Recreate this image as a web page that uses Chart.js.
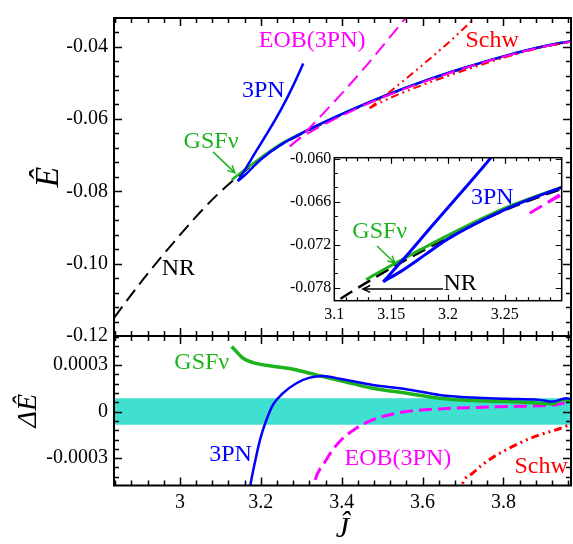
<!DOCTYPE html>
<html lang="en">
<head>
<meta charset="UTF-8">
<title>Binding energy vs angular momentum</title>
<script src="https://cdn.jsdelivr.net/npm/chart.js"></script>
<style>
  body { margin: 0; background: white; }
  #wrap { position: relative; width: 573px; height: 544px; }
  canvas { position: absolute; left: 0; top: 0; }
</style>
</head>
<body>
<div id="wrap">
  <canvas id="topChart" width="573" height="544"></canvas>
  <canvas id="bottomChart" width="573" height="544"></canvas>
  <canvas id="insetChart" width="573" height="544"></canvas>
</div>
<script>
// ---- top panel: E(J) ----
const nrJ = [2.837, 2.87, 2.91, 2.95, 2.99, 3.04, 3.09, 3.14, 3.2, 3.25, 3.3, 3.35, 3.4, 3.45, 3.5, 3.55, 3.6, 3.65, 3.7, 3.75, 3.8, 3.85, 3.9, 3.967];
const nrE = [-0.1150, -0.1100, -0.1042, -0.0987, -0.0934, -0.0870, -0.0812, -0.0762, -0.0710, -0.0672, -0.0642, -0.0615, -0.0589, -0.0564, -0.0541, -0.0519, -0.0498, -0.0479, -0.0461, -0.0444, -0.0428, -0.0413, -0.0400, -0.0386];

const gsfJ = [3.128, 3.14, 3.17, 3.2, 3.25, 3.3, 3.4, 3.5, 3.6, 3.7, 3.8, 3.9, 3.967];
const gsfE = [-0.0769, -0.0758, -0.0732, -0.0707, -0.0669, -0.0640, -0.0587, -0.0539, -0.0497, -0.0460, -0.0427, -0.0399, -0.0385];

const pn3UpJ = [3.143, 3.16, 3.187, 3.21, 3.238, 3.26, 3.28, 3.305];
const pn3UpE = [-0.0772, -0.0742, -0.0692, -0.0650, -0.0598, -0.0553, -0.0508, -0.0447];
const pn3LoJ = [3.143, 3.16, 3.18, 3.2, 3.25, 3.3, 3.4, 3.5, 3.6, 3.7, 3.8, 3.9, 3.967];
const pn3LoE = [-0.0772, -0.0756, -0.0734, -0.0712, -0.0671, -0.0640, -0.0587, -0.0539, -0.0497, -0.0460, -0.0427, -0.0399, -0.0385];

const eobUpJ = [3.272, 3.30, 3.35, 3.40, 3.45, 3.50, 3.556, 3.566];
const eobUpE = [-0.0676, -0.0648, -0.0590, -0.0530, -0.0467, -0.0400, -0.0324, -0.0310];
const eobLoJ = [3.272, 3.30, 3.331, 3.362, 3.395, 3.45, 3.56, 3.7, 3.8, 3.9, 3.967];
const eobLoE = [-0.0676, -0.0651, -0.0631, -0.0612, -0.0594, -0.0565, -0.0515, -0.0461, -0.0428, -0.0400, -0.0386];

const schwUpJ = [3.469, 3.53, 3.59, 3.65, 3.70, 3.735];
const schwUpE = [-0.0570, -0.0515, -0.0460, -0.0403, -0.0352, -0.0314];
const schwLoJ = [3.469, 3.52, 3.6, 3.7, 3.8, 3.9, 3.967];
const schwLoE = [-0.0570, -0.0542, -0.0506, -0.0467, -0.0431, -0.0401, -0.0387];

// ---- bottom panel: delta E(J) relative to NR ----
const gsfDJ = [3.128, 3.140, 3.156, 3.181, 3.222, 3.280, 3.337, 3.395, 3.477, 3.560, 3.642, 3.724, 3.807, 3.889, 3.922, 3.945, 3.969];
const gsfDE = [0.000418, 0.000385, 0.000343, 0.000315, 0.000294, 0.000272, 0.000236, 0.000199, 0.000150, 0.000118, 0.000086, 0.000071, 0.000064, 0.000054, 0.000050, 0.000075, 0.000070];

const pn3DJ = [3.170, 3.1745, 3.185, 3.198, 3.214, 3.230, 3.255, 3.288, 3.321, 3.354, 3.395, 3.477, 3.560, 3.642, 3.724, 3.807, 3.889, 3.922, 3.955, 3.969];
const pn3DE = [-0.00055, -0.00047, -0.000332, -0.000182, -0.000053, 0.000043, 0.000118, 0.000182, 0.000218, 0.000229, 0.000211, 0.000171, 0.000144, 0.000107, 0.000090, 0.000082, 0.000075, 0.000064, 0.000086, 0.000080];

const eobDJ = [3.325, 3.331, 3.362, 3.395, 3.436, 3.477, 3.519, 3.560, 3.642, 3.724, 3.807, 3.889, 3.930, 3.963];
const eobDE = [-0.00056, -0.00047, -0.00031, -0.000193, -0.000107, -0.000053, -0.000021, 0.0, 0.000017, 0.000026, 0.000032, 0.000037, 0.000043, 0.000064];

const schwDJ = [3.692, 3.698, 3.724, 3.765, 3.807, 3.848, 3.889, 3.930, 3.967];
const schwDE = [-0.00054, -0.00047, -0.000396, -0.00031, -0.000246, -0.000193, -0.00015, -0.000118, -0.000082];

// NR error band
const bandJ = [2.837, 3.967];
const bandHi = [0.000085, 0.000085];
const bandLo = [-0.000085, -0.000085];

// ---- ticks ----
const jTicks = [3, 3.2, 3.4, 3.6, 3.8];
const jLabels = ['3', '3.2', '3.4', '3.6', '3.8'];
const eTicks = [-0.12, -0.10, -0.08, -0.06, -0.04];
const eLabels = ['-0.12', '-0.10', '-0.08', '-0.06', '-0.04'];
const dTicks = [-0.0003, 0, 0.0003];
const dLabels = ['-0.0003', '0', '0.0003'];
const inJTicks = [3.1, 3.15, 3.2, 3.25];
const inJLabels = ['3.1', '3.15', '3.2', '3.25'];
const inETicks = [-0.078, -0.072, -0.066, -0.060];
const inELabels = ['-0.078', '-0.072', '-0.066', '-0.060'];

const SERIF = '"Liberation Serif", "Times New Roman", serif';
const BLUE = '#0000ff', GREEN = '#1db31d', MAGENTA = '#ff00ff', RED = '#ff0000', TEAL = '#40e0d0';

function steps(from, to, step) {
  const out = [];
  for (let k = 0; from + k * step <= to + step * 1e-6; k++) out.push(+(from + k * step).toFixed(8));
  return out;
}

function line(xs, ys, color, width, dash) {
  return {
    data: xs.map((x, i) => ({ x: x, y: ys[i] })),
    borderColor: color, borderWidth: width, borderDash: dash || [],
    pointRadius: 0, fill: false, cubicInterpolationMode: 'monotone'
  };
}

function axis(pos, min, max, ticks, labels, size, fontSize, pad) {
  const vert = pos === 'left';
  return {
    type: 'linear', position: pos, min: min, max: max,
    grid: { display: false, drawTicks: false },
    border: { display: false },
    afterFit: s => { if (vert) s.width = size; else s.height = size; },
    afterBuildTicks: s => { s.ticks = ticks.map(v => ({ value: v })); },
    ticks: {
      autoSkip: false, maxRotation: 0, color: '#000', padding: pad,
      font: { family: SERIF, size: fontSize },
      callback: (v, i) => labels[i]
    }
  };
}

// inward ticks on all four sides plus the frame
const frameTicks = {
  id: 'frameTicks',
  afterDatasetsDraw(chart, args, o) {
    const { ctx, chartArea: a, scales: { x, y } } = chart;
    ctx.save();
    ctx.strokeStyle = '#000';
    ctx.lineWidth = o.tickWidth;
    ctx.beginPath();
    const doX = (vals, len) => vals.forEach(v => {
      const p = Math.round(x.getPixelForValue(v)) + 0.5;
      if (p < a.left + 1 || p > a.right - 1) return;
      ctx.moveTo(p, a.bottom); ctx.lineTo(p, a.bottom - len);
      ctx.moveTo(p, a.top); ctx.lineTo(p, a.top + len);
    });
    const doY = (vals, len) => vals.forEach(v => {
      const p = Math.round(y.getPixelForValue(v)) + 0.5;
      if (p < a.top + 1 || p > a.bottom - 1) return;
      ctx.moveTo(a.left, p); ctx.lineTo(a.left + len, p);
      ctx.moveTo(a.right, p); ctx.lineTo(a.right - len, p);
    });
    doX(o.xMinor, o.minor); doX(o.xMajor, o.major);
    doY(o.yMinor, o.minor); doY(o.yMajor, o.major);
    ctx.stroke();
    ctx.lineWidth = o.frameWidth;
    ctx.strokeRect(a.left, a.top, a.right - a.left, a.bottom - a.top);
    ctx.restore();
  }
};

// text labels and arrows, placed in data coordinates
const notes = {
  id: 'notes',
  afterDraw(chart, args, o) {
    const { ctx, scales: { x, y } } = chart;
    ctx.save();
    ctx.textAlign = 'center';
    ctx.textBaseline = 'middle';
    (o.items || []).forEach(n => {
      ctx.font = (n.size || 24) + 'px ' + SERIF;
      ctx.fillStyle = n.color;
      ctx.fillText(n.text, x.getPixelForValue(n.x), y.getPixelForValue(n.y));
    });
    (o.arrows || []).forEach(r => {
      const x0 = x.getPixelForValue(r.x0), y0 = y.getPixelForValue(r.y0);
      const x1 = x.getPixelForValue(r.x1), y1 = y.getPixelForValue(r.y1);
      const ang = Math.atan2(y1 - y0, x1 - x0), h = 8;
      ctx.strokeStyle = r.color;
      ctx.lineWidth = 1.5;
      ctx.beginPath();
      ctx.moveTo(x0, y0); ctx.lineTo(x1, y1);
      ctx.moveTo(x1 - h * Math.cos(ang - 0.45), y1 - h * Math.sin(ang - 0.45));
      ctx.lineTo(x1, y1);
      ctx.lineTo(x1 - h * Math.cos(ang + 0.45), y1 - h * Math.sin(ang + 0.45));
      ctx.stroke();
    });
    ctx.restore();
  }
};

const whiteArea = {
  id: 'whiteArea',
  beforeDraw(chart) {
    const { ctx, chartArea: a } = chart;
    ctx.save();
    ctx.fillStyle = '#fff';
    ctx.fillRect(a.left, a.top, a.right - a.left, a.bottom - a.top);
    ctx.restore();
  }
};

const J_MIN = 2.837, J_MAX = 3.967;
const DASH = [14, 7], DASHDOT = [8, 4, 2, 4, 2, 4];

function energyDatasets(w) {
  return [
    line(eobUpJ, eobUpE, MAGENTA, w, DASH),
    line(eobLoJ, eobLoE, MAGENTA, w, DASH),
    line(schwUpJ, schwUpE, RED, w, DASHDOT),
    line(schwLoJ, schwLoE, RED, w, DASHDOT),
    line(pn3UpJ, pn3UpE, BLUE, w + 0.5),
    line(pn3LoJ, pn3LoE, BLUE, w + 0.5),
    line(gsfJ, gsfE, GREEN, w + 0.5),
    line(nrJ, nrE, '#000', w, DASH)
  ];
}

const common = {
  responsive: false, animation: false, devicePixelRatio: 1,
  events: []
};

// top panel
new Chart(document.getElementById('topChart'), {
  type: 'line',
  data: { datasets: energyDatasets(2) },
  options: Object.assign({}, common, {
    layout: { autoPadding: false, padding: { left: 0, right: 2, top: 9, bottom: 208 } },
    scales: {
      x: { type: 'linear', min: J_MIN, max: J_MAX, display: false },
      y: Object.assign(axis('left', -0.12, -0.0321, eTicks, eLabels, 114, 20, 6), {
        title: { display: true, text: 'Ê', color: '#000', padding: { top: 32, bottom: 0 },
                 font: { family: SERIF, size: 34, style: 'italic', lineHeight: 1 } }
      })
    },
    plugins: {
      legend: { display: false }, tooltip: { enabled: false },
      frameTicks: { xMajor: jTicks, xMinor: steps(2.84, 3.96, 0.04), yMajor: eTicks,
                    yMinor: steps(-0.12, -0.032, 0.004), major: 8, minor: 5, tickWidth: 1.5, frameWidth: 2 },
      notes: {
        items: [
          { text: 'EOB(3PN)', x: 3.327, y: -0.0383, color: MAGENTA },
          { text: 'Schw', x: 3.772, y: -0.0384, color: RED },
          { text: '3PN', x: 3.206, y: -0.0521, color: BLUE },
          { text: 'GSF\u03bd', x: 3.077, y: -0.0662, color: GREEN },
          { text: 'NR', x: 2.996, y: -0.1014, color: '#000' }
        ],
        arrows: [{ x0: 3.082, y0: -0.0691, x1: 3.136, y1: -0.0749, color: GREEN }]
      }
    }
  }),
  plugins: [frameTicks, notes]
});

// bottom panel
new Chart(document.getElementById('bottomChart'), {
  type: 'line',
  data: {
    datasets: [
      line(pn3DJ, pn3DE, BLUE, 2.5),
      line(gsfDJ, gsfDE, GREEN, 3.5),
      line(eobDJ, eobDE, MAGENTA, 3, [13, 6]),
      line(schwDJ, schwDE, RED, 3, DASHDOT),
      Object.assign(line(bandJ, bandHi, TEAL, 0), { fill: '+1', backgroundColor: TEAL, cubicInterpolationMode: 'default' }),
      Object.assign(line(bandJ, bandLo, TEAL, 0), { cubicInterpolationMode: 'default' })
    ]
  },
  options: Object.assign({}, common, {
    layout: { autoPadding: false, padding: { left: 0, right: 2, top: 336, bottom: 0 } },
    scales: {
      x: Object.assign(axis('bottom', J_MIN, J_MAX, jTicks, jLabels, 58.5, 20, 5), {
        title: { display: true, text: 'Ĵ', color: '#000', padding: { top: 0, bottom: 0 },
                 font: { family: SERIF, size: 30, style: 'italic', lineHeight: 1 } }
      }),
      y: Object.assign(axis('left', -0.000476, 0.000486, dTicks, dLabels, 114, 20, 6), {
        title: { display: true, text: 'ΔÊ', color: '#000', padding: { top: 15, bottom: 0 },
                 font: { family: SERIF, size: 28, style: 'italic', lineHeight: 1 } }
      })
    },
    plugins: {
      legend: { display: false }, tooltip: { enabled: false },
      frameTicks: { xMajor: jTicks, xMinor: steps(2.84, 3.96, 0.04), yMajor: dTicks,
                    yMinor: steps(-0.00042, 0.00048, 0.00006), major: 8, minor: 5, tickWidth: 1.5, frameWidth: 2 },
      notes: {
        items: [
          { text: 'GSF\u03bd', x: 3.054, y: 0.000313, color: GREEN },
          { text: '3PN', x: 3.125, y: -0.000278, color: BLUE },
          { text: 'EOB(3PN)', x: 3.539, y: -0.000304, color: MAGENTA },
          { text: 'Schw', x: 3.893, y: -0.000358, color: RED }
        ]
      }
    }
  }),
  plugins: [frameTicks, notes]
});

// inset
new Chart(document.getElementById('insetChart'), {
  type: 'line',
  data: { datasets: energyDatasets(2.5) },
  options: Object.assign({}, common, {
    layout: { autoPadding: false, padding: { left: 0, right: 11.3, top: 157.7, bottom: 223.3 } },
    scales: {
      x: axis('bottom', 3.1, 3.3, inJTicks, inJLabels, 20, 16, 4),
      y: axis('left', -0.07984, -0.05985, inETicks, inELabels, 334.3, 16, 3)
    },
    plugins: {
      legend: { display: false }, tooltip: { enabled: false },
      frameTicks: { xMajor: inJTicks, xMinor: steps(3.1, 3.3, 0.01), yMajor: inETicks,
                    yMinor: steps(-0.080, -0.060, 0.002), major: 6, minor: 3.5, tickWidth: 1.2, frameWidth: 1.5 },
      notes: {
        items: [
          { text: '3PN', x: 3.239, y: -0.0655, color: BLUE },
          { text: 'GSF\u03bd', x: 3.140, y: -0.0702, color: GREEN },
          { text: 'NR', x: 3.2106, y: -0.0774, color: '#000' }
        ],
        arrows: [
          { x0: 3.1376, y0: -0.0722, x1: 3.1534, y1: -0.0746, color: GREEN },
          { x0: 3.1956, y0: -0.0782, x1: 3.1252, y1: -0.0782, color: '#000' }
        ]
      }
    }
  }),
  plugins: [whiteArea, frameTicks, notes]
});
</script>
</body>
</html>
